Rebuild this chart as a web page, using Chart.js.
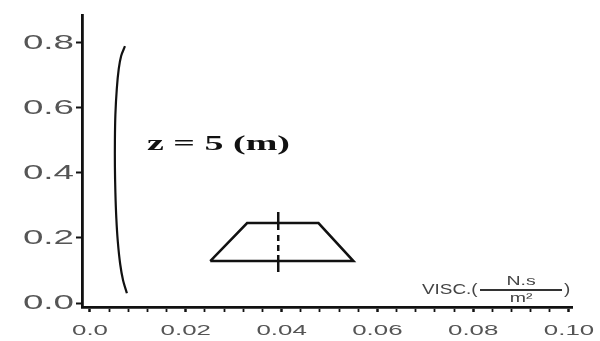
<!DOCTYPE html>
<html>
<head>
<meta charset="utf-8">
<script src="https://cdn.jsdelivr.net/npm/chart.js@4/dist/chart.umd.min.js"></script>
<style>
  html, body { margin: 0; padding: 0; background: #fff; }
  #wrap { width: 600px; height: 341px; }
</style>
</head>
<body>
<div id="wrap"><canvas id="visc" width="600" height="341"></canvas></div>
<script>
// viscosity profile (x = VISC, y = depth fraction)
const curveX = [0.0073, 0.0065, 0.0060, 0.0056, 0.0053, 0.0052, 0.0052, 0.0053, 0.0055, 0.0058, 0.0063, 0.0069, 0.0077];
const curveY = [0.79, 0.76, 0.72, 0.66, 0.58, 0.50, 0.42, 0.34, 0.26, 0.19, 0.12, 0.07, 0.03];

// channel cross-section sketch
const trapX = [0.0251, 0.0328, 0.0477, 0.0550, 0.0251];
const trapY = [0.129, 0.246, 0.246, 0.129, 0.129];
const axisLineX = [0.0393, 0.0393];
const axisLineY = [0.095, 0.28];

const xTicks = [0, 0.004, 0.008, 0.012, 0.016, 0.02, 0.024, 0.028, 0.032, 0.036, 0.04, 0.044, 0.048,
  0.052, 0.056, 0.06, 0.064, 0.068, 0.072, 0.076, 0.08, 0.084, 0.088, 0.092, 0.096, 0.10];
const xLabels = ["0.0", "0.02", "0.04", "0.06", "0.08", "0.10"];
const xLabelVals = [0, 0.02, 0.04, 0.06, 0.08, 0.10];
const yTicks = [0, 0.2, 0.4, 0.6, 0.8];
const yLabels = ["0.0", "0.2", "0.4", "0.6", "0.8"];

const zip = (xs, ys) => xs.map((x, i) => ({ x: x, y: ys[i] }));

// draws text stretched horizontally like the scanned figure
const wideText = (ctx, txt, x, y, sx, align) => {
  ctx.save();
  ctx.translate(x, y);
  ctx.scale(sx, 1);
  ctx.textAlign = align || "left";
  ctx.fillText(txt, 0, 0);
  ctx.restore();
};

const labelsPlugin = {
  id: "labels",
  afterDraw(chart) {
    const ctx = chart.ctx;
    const xs = chart.scales.x, ys = chart.scales.y;
    ctx.save();
    ctx.textBaseline = "middle";
    ctx.fillStyle = "#555";

    ctx.font = "21px 'Liberation Sans'";
    yLabels.forEach((t, i) => {
      wideText(ctx, t, xs.left - 8, ys.getPixelForValue(yTicks[i]), 1.75, "right");
    });

    ctx.font = "14px 'Liberation Sans'";
    xLabels.forEach((t, i) => {
      wideText(ctx, t, xs.getPixelForValue(xLabelVals[i]), ys.bottom + 24, 1.85, "center");
    });

    // z = 5 (m)
    ctx.fillStyle = "#111";
    ctx.font = "bold 20px 'Liberation Serif'";
    wideText(ctx, "z = 5 (m)", xs.getPixelForValue(0.0119), ys.getPixelForValue(0.486), 1.9, "left");

    // VISC.(N.s / m2)
    ctx.fillStyle = "#444";
    const vx = xs.getPixelForValue(0.0693), vy = ys.getPixelForValue(0.04);
    ctx.font = "14px 'Liberation Sans'";
    wideText(ctx, "VISC.(", vx, vy, 1.35, "left");
    ctx.font = "13px 'Liberation Sans'";
    wideText(ctx, "N.s", 521, vy - 9, 1.5, "center");
    wideText(ctx, "m²", 521, vy + 8, 1.5, "center");
    ctx.strokeStyle = "#333";
    ctx.lineWidth = 1.8;
    ctx.beginPath();
    ctx.moveTo(480, vy);
    ctx.lineTo(562, vy);
    ctx.stroke();
    ctx.font = "14px 'Liberation Sans'";
    wideText(ctx, ")", 564, vy, 1.35, "left");
    ctx.restore();
  }
};

new Chart(document.getElementById("visc").getContext("2d"), {
  type: "scatter",
  data: {
    datasets: [
      {
        data: zip(curveX, curveY),
        showLine: true,
        borderColor: "#111",
        borderWidth: 2.2,
        pointRadius: 0,
        tension: 0.3,
      },
      {
        data: zip(trapX, trapY),
        showLine: true,
        borderColor: "#111",
        borderWidth: 2.5,
        pointRadius: 0,
        tension: 0,
      },
      {
        data: zip(axisLineX, axisLineY),
        showLine: true,
        borderColor: "#111",
        borderWidth: 2.5,
        borderDash: [17, 4, 6, 4, 6, 5, 30],
        pointRadius: 0,
      },
    ],
  },
  options: {
    responsive: false,
    animation: false,
    layout: { padding: { left: 74, top: 15, right: 28, bottom: 26 } },
    plugins: { legend: { display: false }, tooltip: { enabled: false } },
    scales: {
      x: {
        type: "linear",
        min: -0.00167,
        max: 0.10063,
        afterBuildTicks: (s) => { s.ticks = xTicks.map((v) => ({ value: v })); },
        afterFit: (s) => { s.height = 8; },
        ticks: { display: false },
        grid: {
          drawOnChartArea: false,
          drawTicks: true,
          tickLength: 5,
          tickColor: "#111",
          tickWidth: (c) => (Math.abs(c.tick.value * 50 - Math.round(c.tick.value * 50)) < 1e-6 ? 2.5 : 1.8),
        },
        border: { display: true, color: "#111", width: 2.8 },
      },
      y: {
        type: "linear",
        min: -0.0123,
        max: 0.886,
        afterBuildTicks: (s) => { s.ticks = yTicks.map((v) => ({ value: v })); },
        afterFit: (s) => { s.width = 8; },
        ticks: { display: false },
        grid: {
          drawOnChartArea: false,
          drawTicks: true,
          tickLength: 6,
          tickColor: "#111",
          tickWidth: 2,
        },
        border: { display: true, color: "#111", width: 2.8 },
      },
    },
  },
  plugins: [labelsPlugin],
});
</script>
</body>
</html>
